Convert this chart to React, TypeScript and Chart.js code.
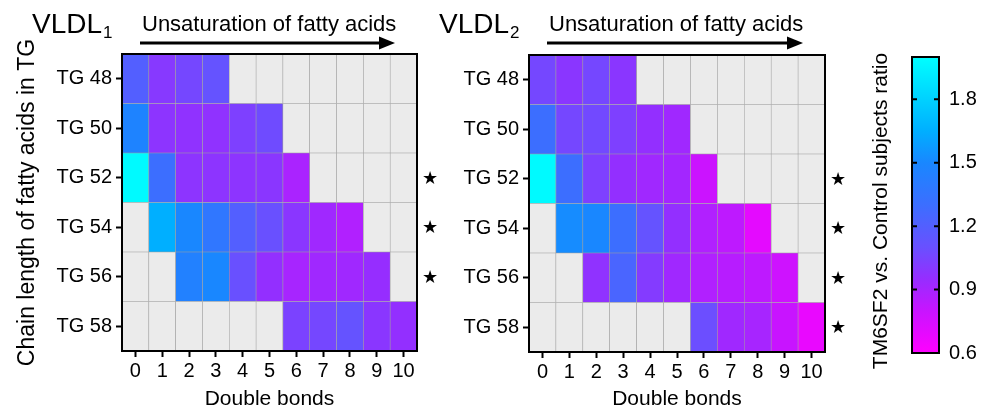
import { useEffect, useRef } from 'react';
import { Chart, registerables } from 'chart.js';

Chart.register(...registerables);

// ---------- data ----------
const doubleBonds = ['0', '1', '2', '3', '4', '5', '6', '7', '8', '9', '10'];
const chainLengths = ['TG 48', 'TG 50', 'TG 52', 'TG 54', 'TG 56', 'TG 58'];

// VLDL1 ratios (TM6SF2 vs. control), null = not detected
const vldl1TG48 = [1.2, 1.0, 1.06, 1.12, null, null, null, null, null, null, null];
const vldl1TG50 = [1.47, 0.98, 0.97, 0.97, 1.03, 1.08, null, null, null, null, null];
const vldl1TG52 = [1.98, 1.3, 0.98, 0.98, 0.98, 0.99, 0.89, null, null, null, null];
const vldl1TG54 = [null, 1.65, 1.5, 1.37, 1.2, 1.1, 0.99, 0.92, 0.87, null, null];
const vldl1TG56 = [null, null, 1.45, 1.5, 1.1, 0.96, 0.9, 0.92, 0.92, 0.95, null];
const vldl1TG58 = [null, null, null, null, null, null, 1.04, 1.06, 1.12, 0.99, 0.96];

// VLDL2 ratios
const vldl2TG48 = [1.06, 0.99, 1.06, 0.99, null, null, null, null, null, null, null];
const vldl2TG50 = [1.3, 1.06, 1.07, 1.03, 0.96, 0.92, null, null, null, null, null];
const vldl2TG52 = [1.98, 1.3, 1.03, 0.96, 0.92, 0.91, 0.79, null, null, null, null];
const vldl2TG54 = [null, 1.52, 1.5, 1.3, 1.12, 0.96, 0.87, 0.83, 0.7, null, null];
const vldl2TG56 = [null, null, 0.97, 1.24, 1.01, 0.92, 0.87, 0.85, 0.83, 0.78, null];
const vldl2TG58 = [null, null, null, null, null, null, 1.09, 0.92, 0.9, 0.8, 0.68];

const vldl1Stars = ['TG 52', 'TG 54', 'TG 56'];
const vldl2Stars = ['TG 52', 'TG 54', 'TG 56', 'TG 58'];

const colorbarTicks = [0.6, 0.9, 1.2, 1.5, 1.8];
const colorMin = 0.6;
const colorMax = 2.0;

// ---------- colour map ----------
const cmapStops: [number, number[]][] = [
  [0.6, [255, 0, 255]],
  [0.8, [200, 20, 255]],
  [0.95, [150, 45, 255]],
  [1.1, [105, 80, 255]],
  [1.3, [60, 110, 255]],
  [1.5, [25, 135, 255]],
  [1.65, [0, 175, 255]],
  [2.0, [0, 255, 255]],
];

function colorFor(v: number | null): string {
  if (v === null) return '#ebebeb';
  const x = Math.max(colorMin, Math.min(colorMax, v));
  for (let i = 0; i < cmapStops.length - 1; i++) {
    const [a, ca] = cmapStops[i];
    const [b, cb] = cmapStops[i + 1];
    if (x >= a && x <= b) {
      const t = (x - a) / (b - a);
      const c = ca.map((ch, k) => Math.round(ch + (cb[k] - ch) * t));
      return `rgb(${c[0]},${c[1]},${c[2]})`;
    }
  }
  return 'rgb(0,255,255)';
}

const FONT = '"Liberation Sans", Arial, sans-serif';

function makeHeatmap(
  rows: (number | null)[][],
  stars: string[],
  sub: string,
  yTitle: boolean,
  area: { left: number; top: number; right: number; bottom: number },
  yAxisWidth: number
): any {
  const datasets = rows
    .map((row, r) => ({
      label: chainLengths[r],
      data: row.map(() => 1),
      backgroundColor: row.map((v) => colorFor(v)),
      borderColor: '#a0a0a0',
      borderWidth: 0.6,
      borderSkipped: false,
      barPercentage: 1,
      categoryPercentage: 1,
    }))
    .reverse();

  const overlay = {
    id: 'overlay' + sub,
    afterDatasetsDraw(chart: any) {
      const { ctx, chartArea } = chart;
      const ys = chart.scales.y;
      ctx.save();
      // frame
      ctx.strokeStyle = '#000';
      ctx.lineWidth = 2;
      ctx.strokeRect(chartArea.left, chartArea.top, chartArea.right - chartArea.left, chartArea.bottom - chartArea.top);
      // stars
      ctx.fillStyle = '#000';
      ctx.font = `18px ${FONT}`;
      ctx.textAlign = 'center';
      ctx.textBaseline = 'middle';
      stars.forEach((s) => {
        const r = chainLengths.indexOf(s);
        const y = ys.getPixelForValue(5 - r + 0.5);
        ctx.fillText('★', chartArea.right + 13, y + 1);
      });
      // title
      ctx.textAlign = 'left';
      ctx.textBaseline = 'alphabetic';
      ctx.font = `28px ${FONT}`;
      const tx = chartArea.left - 90;
      ctx.fillText('VLDL', tx, 33);
      const w = ctx.measureText('VLDL').width;
      ctx.font = `17px ${FONT}`;
      ctx.fillText(sub, tx + w + 1, 38);
      // arrow label
      ctx.font = `22px ${FONT}`;
      ctx.fillText('Unsaturation of fatty acids', chartArea.left + 20, 31);
      // arrow
      const ax0 = chartArea.left + 18;
      const ax1 = chartArea.right - 22;
      const ay = 43;
      ctx.lineWidth = 3;
      ctx.beginPath();
      ctx.moveTo(ax0, ay);
      ctx.lineTo(ax1 - 12, ay);
      ctx.stroke();
      ctx.beginPath();
      ctx.moveTo(ax1, ay);
      ctx.lineTo(ax1 - 16, ay - 6.5);
      ctx.lineTo(ax1 - 16, ay + 6.5);
      ctx.closePath();
      ctx.fill();
      ctx.restore();
    },
  };

  return {
    type: 'bar',
    data: { labels: doubleBonds, datasets },
    options: {
      responsive: false,
      animation: false,
      events: [],
      layout: { padding: { left: area.left - yAxisWidth, top: area.top, right: 987 - area.right, bottom: 0 } },
      plugins: { legend: { display: false }, tooltip: { enabled: false } },
      scales: {
        x: {
          type: 'category',
          stacked: true,
          offset: true,
          grid: { offset: false, drawOnChartArea: false, drawTicks: true, tickLength: 6, tickWidth: 2, color: '#000' },
          border: { display: true, color: '#000', width: 2 },
          ticks: { font: { size: 20, family: FONT }, color: '#000', padding: 2, maxRotation: 0, autoSkip: false },
          title: { display: true, text: 'Double bonds', color: '#000', font: { size: 21, family: FONT }, padding: { top: 0, bottom: 2 } },
          afterFit: (s: any) => {
            s.height = 414 - area.bottom;
          },
        },
        y: {
          type: 'linear',
          stacked: true,
          min: 0,
          max: 6,
          afterBuildTicks: (s: any) => {
            s.ticks = [0.5, 1.5, 2.5, 3.5, 4.5, 5.5].map((v) => ({ value: v }));
          },
          grid: { drawOnChartArea: false, drawTicks: true, tickLength: 6, tickWidth: 2, color: '#000' },
          border: { display: true, color: '#000', width: 2 },
          ticks: {
            font: { size: 20, family: FONT },
            color: '#000',
            padding: 4,
            callback: (v: number) => chainLengths[5 - Math.floor(v)],
          },
          title: {
            display: yTitle,
            text: 'Chain length of fatty acids in TG',
            color: '#000',
            font: { size: 23, family: FONT },
            padding: { top: 14, bottom: 0 },
          },
          afterFit: (s: any) => {
            s.width = yAxisWidth;
          },
        },
      },
    },
    plugins: [overlay],
  };
}

function makeColorbar(): any {
  const cbPlugin = {
    id: 'cbOverlay',
    afterDatasetsDraw(chart: any) {
      const { ctx, chartArea } = chart;
      const ys = chart.scales.y;
      ctx.save();
      ctx.strokeStyle = '#000';
      ctx.lineWidth = 2;
      ctx.strokeRect(chartArea.left, chartArea.top, chartArea.right - chartArea.left, chartArea.bottom - chartArea.top);
      colorbarTicks.forEach((t) => {
        if (t === colorMin) return;
        const y = ys.getPixelForValue(t);
        ctx.beginPath();
        ctx.moveTo(chartArea.left, y);
        ctx.lineTo(chartArea.left + 5, y);
        ctx.moveTo(chartArea.right - 5, y);
        ctx.lineTo(chartArea.right, y);
        ctx.stroke();
      });
      ctx.fillStyle = '#000';
      ctx.font = `21px ${FONT}`;
      ctx.textAlign = 'center';
      ctx.textBaseline = 'middle';
      ctx.translate(881, 211);
      ctx.rotate(-Math.PI / 2);
      ctx.fillText('TM6SF2 vs. Control subjects ratio', 0, 0);
      ctx.restore();
    },
  };
  return {
    type: 'bar',
    data: {
      labels: ['ratio'],
      datasets: [
        {
          data: [[colorMin, colorMax]],
          barPercentage: 1,
          categoryPercentage: 1,
          borderWidth: 0,
          backgroundColor: (c: any) => {
            const chart = c.chart;
            const ys = chart.scales.y;
            if (!chart.chartArea || !ys) return '#fff';
            const g = chart.ctx.createLinearGradient(0, ys.getPixelForValue(colorMin), 0, ys.getPixelForValue(colorMax));
            cmapStops.forEach(([v, col]) => {
              g.addColorStop((v - colorMin) / (colorMax - colorMin), `rgb(${col[0]},${col[1]},${col[2]})`);
            });
            return g;
          },
        },
      ],
    },
    options: {
      responsive: false,
      animation: false,
      events: [],
      layout: { padding: { left: 912, top: 57, right: 0, bottom: 414 - 353 } },
      plugins: { legend: { display: false }, tooltip: { enabled: false } },
      scales: {
        x: { display: false },
        y: {
          position: 'right',
          min: colorMin,
          max: colorMax,
          afterBuildTicks: (s: any) => {
            s.ticks = colorbarTicks.map((v) => ({ value: v }));
          },
          grid: { drawOnChartArea: false, drawTicks: false },
          border: { display: false },
          ticks: {
            font: { size: 20, family: FONT },
            color: '#000',
            padding: 10,
            callback: (v: number) => v.toFixed(1),
          },
          afterFit: (s: any) => {
            s.width = 987 - 939;
          },
        },
      },
    },
    plugins: [cbPlugin],
  };
}

export default function App() {
  const r1 = useRef<HTMLCanvasElement>(null);
  const r2 = useRef<HTMLCanvasElement>(null);
  const r3 = useRef<HTMLCanvasElement>(null);

  useEffect(() => {
    Chart.defaults.font.family = FONT;
    Chart.defaults.color = '#000';
    const c1 = new Chart(
      r1.current as HTMLCanvasElement,
      makeHeatmap(
        [vldl1TG48, vldl1TG50, vldl1TG52, vldl1TG54, vldl1TG56, vldl1TG58],
        vldl1Stars,
        '1',
        true,
        { left: 122, top: 54, right: 417, bottom: 351 },
        122
      )
    );
    const c2 = new Chart(
      r2.current as HTMLCanvasElement,
      makeHeatmap(
        [vldl2TG48, vldl2TG50, vldl2TG52, vldl2TG54, vldl2TG56, vldl2TG58],
        vldl2Stars,
        '2',
        false,
        { left: 529, top: 55, right: 825, bottom: 352 },
        99
      )
    );
    const c3 = new Chart(r3.current as HTMLCanvasElement, makeColorbar());
    return () => {
      c1.destroy();
      c2.destroy();
      c3.destroy();
    };
  }, []);

  const cs: any = { position: 'absolute', left: 0, top: 0, width: 987, height: 414 };
  return (
    <div style={{ position: 'fixed', left: 0, top: 0, width: 987, height: 414, background: '#fff' }}>
      <canvas ref={r1} width={987} height={414} style={cs} />
      <canvas ref={r2} width={987} height={414} style={cs} />
      <canvas ref={r3} width={987} height={414} style={cs} />
    </div>
  );
}
